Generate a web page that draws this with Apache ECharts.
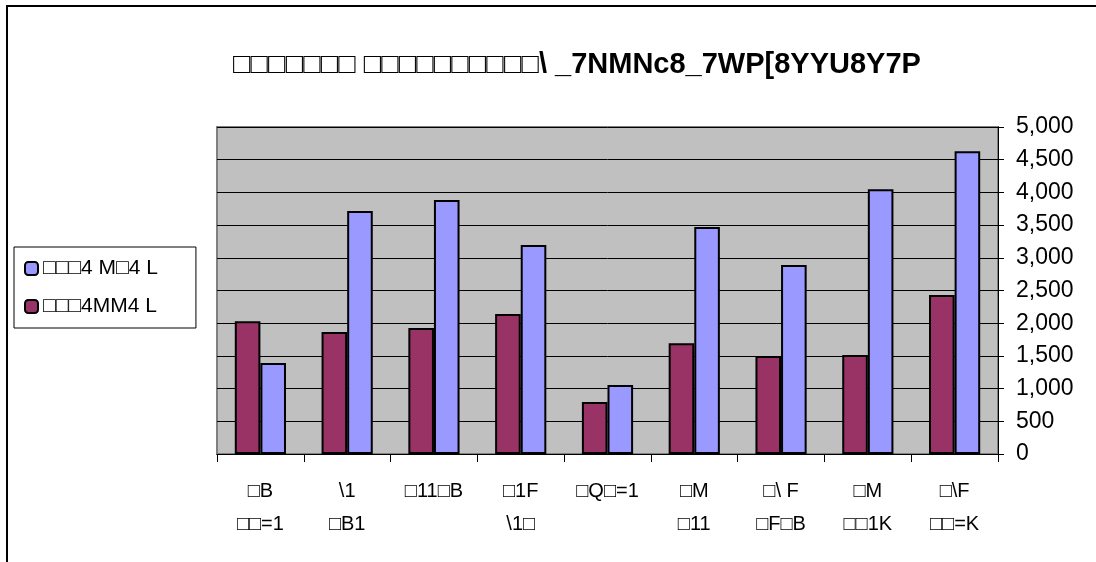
<!DOCTYPE html>
<html><head><meta charset="utf-8">
<script src="https://cdn.jsdelivr.net/npm/echarts@6/dist/echarts.min.js"></script>
<style>html,body{margin:0;padding:0;background:#fff}#c{width:1096px;height:562px}</style>
</head><body><div id="c"></div>
<script>
const titleText = "□□□□□□□ □□□□□□□□□□\\ _7NMNc8_7WP[8YYU8Y7P";
const categories = ["□B\n□□=1", "\\1\n□B1", "□11□B", "□1F\n\\1□", "□Q□=1", "□M\n□11", "□\\ F\n□F□B", "□M\n□□1K", "□\\F\n□□=K"];
const seriesNames = ["□□□4 M□4 L", "□□□4MM4 L"];
const maroonValues = [2030, 1865, 1925, 2140, 795, 1695, 1500, 1515, 2430];
const blueValues = [1390, 3715, 3885, 3195, 1055, 3470, 2890, 4050, 4630];
const yTicks = [0, 500, 1000, 1500, 2000, 2500, 3000, 3500, 4000, 4500, 5000];

const chart = echarts.init(document.getElementById('c'), null, {renderer: 'canvas'});
const font = 'Liberation Sans, Arial, sans-serif';
chart.setOption({
  animation: false,
  backgroundColor: '#fff',
  graphic: [{type: 'rect', shape: {x: 7, y: 6, width: 1200, height: 700}, style: {fill: 'none', stroke: '#000', lineWidth: 2}, z: 100}],
  title: {text: titleText, left: 572, textAlign: 'center', top: 45,
    textStyle: {fontFamily: font, fontSize: 29, fontWeight: 'bold', color: '#000'}},
  legend: {orient: 'vertical', left: 14, top: 247, itemWidth: 13, itemHeight: 13, itemGap: 17,
    padding: [11, 38, 11, 10], borderColor: '#000', borderWidth: 1,
    data: [seriesNames[0], seriesNames[1]],
    textStyle: {fontFamily: font, fontSize: 21, color: '#000'}},
  grid: {left: 217, right: 98, top: 127, bottom: 108, show: true, backgroundColor: '#c0c0c0', borderColor: '#808080', borderWidth: 2},
  xAxis: {type: 'category', data: categories,
    axisLine: {lineStyle: {color: '#000', width: 1}},
    axisTick: {show: true, length: 8, lineStyle: {color: '#000'}},
    axisLabel: {fontFamily: font, fontSize: 20, color: '#000', margin: 21, lineHeight: 33, interval: 0}},
  yAxis: {type: 'value', position: 'right', min: 0, max: 5000, interval: 500,
    axisLine: {show: true, lineStyle: {color: '#000'}},
    axisTick: {show: true, length: 6, lineStyle: {color: '#000'}},
    splitLine: {lineStyle: {color: '#000', width: 1}},
    axisLabel: {fontFamily: font, fontSize: 23, color: '#000', margin: 18,
      formatter: v => v.toLocaleString('en-US')}},
  series: [
    {name: seriesNames[1], type: 'bar', data: maroonValues, barGap: '0%', barCategoryGap: '41%',
      itemStyle: {color: '#993366', borderColor: '#000', borderWidth: 2}},
    {name: seriesNames[0], type: 'bar', data: blueValues, barGap: '0%', barCategoryGap: '41%',
      itemStyle: {color: '#9999ff', borderColor: '#000', borderWidth: 2}}
  ]
});
</script></body></html>
